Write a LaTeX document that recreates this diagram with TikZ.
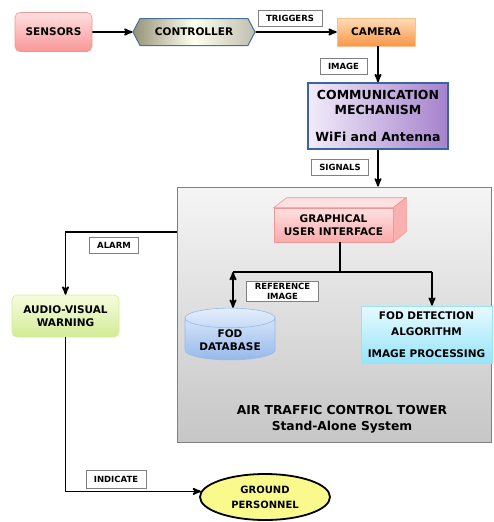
\documentclass[tikz,border=0pt]{standalone}
\usepackage{fontspec}
\setmainfont{DejaVu Sans}
\usetikzlibrary{arrows,shapes,calc}

\definecolor{pinktop}{RGB}{255,224,224}
\definecolor{pinkbot}{RGB}{248,150,150}
\definecolor{pinkline}{RGB}{238,150,150}
\definecolor{ctrlside}{RGB}{150,146,120}
\definecolor{ctrlmid}{RGB}{255,255,240}
\definecolor{ctrlline}{RGB}{65,113,156}
\definecolor{camtop}{RGB}{255,222,185}
\definecolor{cambot}{RGB}{248,150,70}
\definecolor{commleft}{RGB}{242,236,250}
\definecolor{commright}{RGB}{165,130,205}
\definecolor{commline}{RGB}{60,100,160}
\definecolor{towertop}{RGB}{245,245,245}
\definecolor{towerbot}{RGB}{198,198,198}
\definecolor{dbtop}{RGB}{228,238,252}
\definecolor{dbbot}{RGB}{150,185,235}
\definecolor{fodtop}{RGB}{232,250,255}
\definecolor{fodbot}{RGB}{150,228,248}
\definecolor{avtop}{RGB}{246,252,222}
\definecolor{avbot}{RGB}{210,236,150}
\definecolor{gndfill}{RGB}{250,250,140}

\begin{document}
\begin{tikzpicture}[x=1pt,y=-1pt,>=stealth',line width=1.8pt,
                    every node/.style={font=\bfseries\fontsize{10.5}{13}\selectfont,
                                       align=center,inner sep=2pt},
                    tag/.style={draw=gray,fill=white,line width=0.6pt,inner xsep=8pt,
                                font=\bfseries\fontsize{8.5}{10}\selectfont,minimum height=16pt}]

  \useasboundingbox (0,0) rectangle (493,522);

  \node[draw=gray,line width=0.8pt,top color=towertop,bottom color=towerbot,
        minimum width=314pt,minimum height=255pt] (tower) at (334,314.5) {};
  \node[font=\bfseries\fontsize{12.3}{16}\selectfont] (atc) at (342,419)
       {AIR TRAFFIC CONTROL TOWER\\Stand-Alone System};

  \node[draw=pinkline,line width=0.6pt,rounded corners=5pt,top color=pinktop,
        bottom color=pinkbot,minimum width=77pt,minimum height=39pt] (sensors) at (53.5,32) {SENSORS};
  \node[signal,signal to=west and east,signal pointer angle=125,draw=ctrlline,line width=1pt,
        left color=ctrlside,right color=ctrlside!60!white,middle color=ctrlmid,
        minimum width=122pt,minimum height=27pt] (controller) at (194,32) {CONTROLLER};
  \node[draw=cambot!60!white,line width=0.6pt,top color=camtop,bottom color=cambot,
        minimum width=78pt,minimum height=28pt] (camera) at (376,32) {CAMERA};
  \node[draw=commline,line width=1.5pt,left color=commleft,right color=commright,
        minimum width=140pt,minimum height=66pt,font=\bfseries\fontsize{12.5}{15}\selectfont]
       (comm) at (378,116) {COMMUNICATION\\MECHANISM\\[12pt]WiFi and Antenna};

  \node[draw=pinkline,line width=0.6pt,top color=pinktop,bottom color=pinkbot!80!white,
        minimum width=119pt,minimum height=34pt] (gui) at (333.5,225) {GRAPHICAL\\USER INTERFACE};
  \filldraw[draw=pinkline,fill=pinktop,line width=0.6pt]
       (gui.north west) -- ++(13,-10) -- ++(119,0) -- (gui.north east) -- cycle;
  \filldraw[draw=pinkline,fill=pinkbot!75!white,line width=0.6pt]
       (gui.north east) -- ++(13,-10) -- ++(0,34) -- (gui.south east) -- cycle;

  \node[cylinder,shape border rotate=90,aspect=0.3,draw=dbbot,line width=0.6pt,
        top color=dbtop,bottom color=dbbot,minimum width=90pt,minimum height=51pt]
       (db) at (230,340.5) {FOD\\DATABASE};
  \node[draw=fodbot,line width=0.6pt,top color=fodtop,bottom color=fodbot,
        minimum width=131pt,minimum height=57pt,font=\bfseries\fontsize{10.5}{16}\selectfont]
       (fod) at (426.5,334.5) {FOD DETECTION\\ALGORITHM\\[6pt]IMAGE PROCESSING};

  \node[draw=avbot,line width=0.6pt,rounded corners=5pt,top color=avtop,bottom color=avbot,
        minimum width=107pt,minimum height=42pt] (audio) at (65.5,316) {AUDIO-VISUAL\\WARNING};
  \node[ellipse,draw,line width=1.8pt,fill=gndfill,minimum width=130pt,minimum height=46pt,
        inner sep=0pt,font=\bfseries\fontsize{10}{15}\selectfont]
       (ground) at (265,497) {GROUND\\PERSONNEL};

  % labels on the links
  \node[tag] (trig) at (290,18.5) {TRIGGERS};
  \node[tag] (img) at (343.5,66) {IMAGE};
  \node[tag] (sig) at (340,167) {SIGNALS};
  \node[tag] (refimg) at (282.5,291.5) {REFERENCE\\IMAGE};
  \node[tag] (alarm) at (114,245) {ALARM};
  \node[tag,minimum height=18pt] (ind) at (116,479) {INDICATE};

  \coordinate (split) at (340,272);
  \coordinate (dbtap) at (233,272);
  \coordinate (fodtap) at (432,272);
  \coordinate (alarmtap) at ($(tower.north west)+(0,45)$);

  \path[->] (sensors) edge (controller)
            (controller) edge (camera);
  \draw[->] (comm.north |- camera.south) -- (comm.north);
  \draw[->] (comm.south) -- (comm.south |- tower.north);
  \draw (split |- gui.south) -- (split);
  \draw (dbtap) -- (fodtap);
  \draw[<->] (dbtap) -- (dbtap |- db.north);
  \draw[->] (fodtap) -- (fodtap |- fod.north);
  \draw[->] (alarmtap) -| (audio.north);
  \draw[->] (audio.south) |- (ground.175);
\end{tikzpicture}
\end{document}
